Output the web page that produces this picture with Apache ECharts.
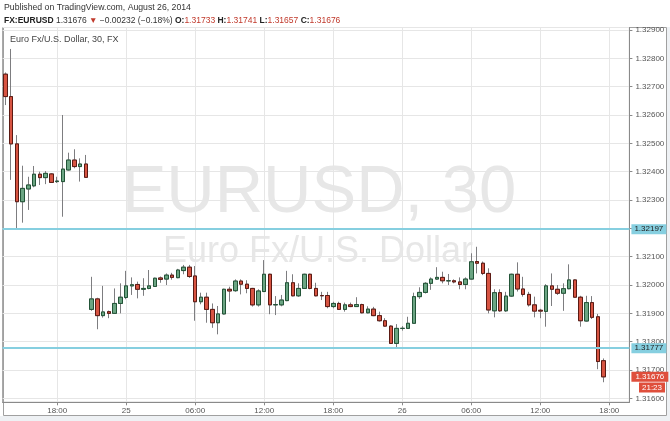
<!DOCTYPE html>
<html><head><meta charset="utf-8">
<script src="https://cdn.jsdelivr.net/npm/echarts@6/dist/echarts.min.js"></script>
<style>html,body{margin:0;padding:0;background:#fff}#c{width:670px;height:421px}</style>
</head><body><div id="c"></div>
<script>
// 30-minute bar times (Fri 22 Aug 13:30-20:30, then Sun 24 Aug 21:00 onward)
const barTimes = (function () {
  const out = [];
  const p = n => String(n).padStart(2, '0');
  for (let t = 13 * 60 + 30; t <= 20 * 60 + 30; t += 30) out.push('2014-08-22 ' + p(Math.floor(t / 60)) + ':' + p(t % 60));
  for (let t = 21 * 60; t <= (48 + 19) * 60 + 30; t += 30) {
    const d = 24 + Math.floor(t / 1440), r = t % 1440;
    out.push('2014-08-' + d + ' ' + p(Math.floor(r / 60)) + ':' + p(r % 60));
  }
  return out;
})();

const opens = [
1.32744,1.32665,1.32498,1.32294,1.32339,1.32350,1.32391,1.32379,1.32392,1.32365,1.32365,1.32406,1.32441,1.32418,1.32427,
1.31914,1.31951,1.31892,1.31906,1.31900,1.31935,1.31956,1.31997,1.32002,1.31985,1.31988,1.31995,1.32025,1.32021,1.32035,
1.32026,1.32051,1.32063,1.32032,1.31941,1.31957,1.31914,1.31867,1.31898,1.31985,1.31980,1.32014,1.32003,1.31988,1.31930,
1.31977,1.32038,1.31930,1.31930,1.31945,1.32008,1.31962,1.31988,1.32038,1.31988,1.31963,1.31963,1.31924,1.31935,1.31914,
1.31930,1.31924,1.31931,1.31902,1.31915,1.31892,1.31874,1.31855,1.31794,1.31847,1.31847,1.31865,1.31959,1.31974,1.32006,
1.32021,1.32027,1.32015,1.32015,1.32011,1.32002,1.32021,1.32083,1.32077,1.32041,1.31909,1.31973,1.31909,1.31961,1.32038,
1.31986,1.31967,1.31930,1.31911,1.31907,1.31997,1.31985,1.31971,1.31987,1.32018,1.31957,1.31873,1.31938,1.31888,1.31733];
const closes = [
1.32665,1.32498,1.32294,1.32341,1.32353,1.32391,1.32379,1.32394,1.32362,1.32367,1.32409,1.32441,1.32418,1.32427,1.32380,
1.31951,1.31892,1.31905,1.31900,1.31935,1.31957,1.31997,1.32001,1.31985,1.31988,1.31997,1.32024,1.32020,1.32035,1.32027,
1.32053,1.32063,1.32030,1.31941,1.31957,1.31914,1.31867,1.31898,1.31985,1.31979,1.32014,1.32003,1.31988,1.31930,1.31979,
1.32038,1.31930,1.31931,1.31947,1.32008,1.31962,1.31988,1.32038,1.31988,1.31962,1.31962,1.31924,1.31935,1.31914,1.31930,
1.31924,1.31931,1.31902,1.31915,1.31892,1.31874,1.31855,1.31794,1.31847,1.31847,1.31865,1.31959,1.31974,1.32006,1.32021,
1.32027,1.32015,1.32015,1.32011,1.32002,1.32021,1.32082,1.32077,1.32041,1.31912,1.31973,1.31909,1.31961,1.32038,1.31986,
1.31967,1.31930,1.31908,1.31908,1.31997,1.31985,1.31971,1.31987,1.32018,1.31957,1.31874,1.31938,1.31886,1.31730,1.31676];
const lows = [
1.32635,1.32371,1.32197,1.32220,1.32265,1.32345,1.32353,1.32356,1.32360,1.32360,1.32241,1.32404,1.32412,1.32365,1.32378,
1.31909,1.31844,1.31885,1.31883,1.31898,1.31900,1.31950,1.31965,1.31953,1.31962,1.31985,1.31993,1.32008,1.32000,1.32019,
1.32024,1.32038,1.32025,1.31874,1.31932,1.31867,1.31849,1.31826,1.31896,1.31941,1.31976,1.31967,1.31971,1.31924,1.31924,
1.31975,1.31897,1.31894,1.31925,1.31943,1.31960,1.31958,1.31986,1.31985,1.31960,1.31947,1.31918,1.31918,1.31912,1.31906,
1.31922,1.31924,1.31900,1.31900,1.31890,1.31871,1.31853,1.31792,1.31780,1.31839,1.31845,1.31864,1.31951,1.31970,1.31983,
1.32018,1.32006,1.32000,1.32006,1.31985,1.31985,1.32019,1.32041,1.32035,1.31900,1.31886,1.31905,1.31905,1.31958,1.31977,
1.31959,1.31924,1.31886,1.31883,1.31853,1.31926,1.31965,1.31909,1.31985,1.31955,1.31853,1.31871,1.31880,1.31703,1.31657];
const highs = [
1.32750,1.32833,1.32529,1.32421,1.32382,1.32420,1.32400,1.32402,1.32395,1.32382,1.32600,1.32467,1.32479,1.32447,1.32459,
1.32029,1.31955,1.31997,1.31910,1.31988,1.32006,1.32050,1.32027,1.32012,1.32024,1.32053,1.32026,1.32030,1.32041,1.32043,
1.32057,1.32071,1.32071,1.32067,1.31973,1.31973,1.31935,1.31926,1.31987,1.31994,1.32020,1.32020,1.32017,1.31990,1.31985,
1.32088,1.32040,1.31961,1.31965,1.32050,1.32038,1.32006,1.32040,1.32040,1.32008,1.31976,1.31976,1.31941,1.31941,1.31938,
1.31938,1.31957,1.31934,1.31925,1.31923,1.31906,1.31883,1.31858,1.31862,1.31855,1.31888,1.31973,1.31992,1.32010,1.32027,
1.32063,1.32047,1.32039,1.32020,1.32027,1.32027,1.32112,1.32135,1.32083,1.32059,1.31985,1.31985,1.31976,1.32040,1.32080,
1.32029,1.31976,1.31959,1.31916,1.32003,1.32041,1.32000,1.32006,1.32073,1.32020,1.31962,1.31962,1.31961,1.31898,1.31741];

const levels = [1.32197, 1.31777];
const lastPrice = closes[closes.length - 1];
const timerText = '21:23';
const yMin = 1.315862, yMax = 1.329087;

const FONT = '"Liberation Sans", Arial, sans-serif';
const upFill = '#6ba583', downFill = '#d75442', upEdge = '#225437', downEdge = '#5b1a13', wickColor = '#7d7d80';
const levelColor = '#86cfe0', priceColor = '#df4f3c';

const ohlc = opens.map((o, i) => [o, closes[i], lows[i], highs[i]]);
const bodies = opens.map((o, i) => [o, closes[i], Math.min(o, closes[i]), Math.max(o, closes[i])]);

const isMajor = (idx, val) => { const hm = String(val).slice(11); return hm === '00:00' || hm === '06:00' || hm === '12:00' || hm === '18:00'; };
const fmtX = v => { const hm = v.slice(11); return hm === '00:00' ? String(+v.slice(8, 10)) : hm; };

const levelLabel = (bg, fg, pad) => ({ show: true, position: 'end', distance: 2, formatter: p => Number(p.value).toFixed(5),
  fontSize: 8, color: fg, backgroundColor: bg, padding: pad, fontFamily: FONT });

const chart = echarts.init(document.getElementById('c'), null, { renderer: 'canvas' });
chart.setOption({
  animation: false,
  backgroundColor: '#ffffff',
  textStyle: { fontFamily: FONT },
  grid: { left: 2.6, right: 40.6, top: 27.5, bottom: 18.7, show: true, borderColor: '#a0a0a0', borderWidth: 1 },
  xAxis: {
    type: 'category', data: barTimes, boundaryGap: true,
    axisLine: { lineStyle: { color: '#8a8a8a' } },
    axisTick: { show: true, alignWithLabel: true, interval: isMajor, length: 3, lineStyle: { color: '#8a8a8a' } },
    axisLabel: { interval: isMajor, formatter: fmtX, fontSize: 8, color: '#555', margin: 4, fontFamily: FONT },
    splitLine: { show: true, interval: isMajor, alignWithLabel: true, lineStyle: { color: '#e6e6e6' } }
  },
  yAxis: {
    type: 'value', position: 'right', min: yMin, max: yMax, scale: true,
    splitNumber: 13, minInterval: 0.001, maxInterval: 0.001,
    axisLine: { show: true, lineStyle: { color: '#8a8a8a' } },
    axisTick: { show: true, length: 3, lineStyle: { color: '#8a8a8a' } },
    axisLabel: { formatter: v => v.toFixed(5), fontSize: 8, color: '#555', margin: 6, showMinLabel: false, showMaxLabel: false, fontFamily: FONT },
    splitLine: { show: true, lineStyle: { color: '#e6e6e6' } }
  },
  graphic: [
    { type: 'rect', z: -20, shape: { x: 0, y: 416, width: 670, height: 5 }, style: { fill: '#eef1f4' } },
    { type: 'rect', z: -20, shape: { x: 667, y: 27, width: 3, height: 394 }, style: { fill: '#eef1f4' } },
    { type: 'rect', z: -10, shape: { x: 3.5, y: 27.5, width: 663, height: 388 }, style: { fill: 'none', stroke: '#a0a0a0', lineWidth: 1 } },
    { type: 'text', z: -5, style: { x: 319, y: 194, text: 'EURUSD, 30', align: 'center', verticalAlign: 'middle', font: '67px ' + FONT, fill: '#e7e7e7' } },
    { type: 'text', z: -5, style: { x: 318, y: 252, text: 'Euro Fx/U.S. Dollar', align: 'center', verticalAlign: 'middle', font: '36px ' + FONT, fill: '#e7e7e7' } },
    { type: 'text', z: 10, style: { x: 4, y: 7.5, text: 'Published on TradingView.com, August 26, 2014', verticalAlign: 'middle', font: '8.7px ' + FONT, fill: '#333' } },
    { type: 'text', z: 10, style: { x: 4, y: 20.5, verticalAlign: 'middle', font: '8.5px ' + FONT, fill: '#333',
      text: '{b|FX:EURUSD} {n|1.31676} {r|▼} {n|−0.00232 (−0.18%)} {b|O:}{r|1.31733} {b|H:}{r|1.31741} {b|L:}{r|1.31657} {b|C:}{r|1.31676}',
      rich: { b: { fontWeight: 'bold', fontSize: 8.5, fill: '#222', fontFamily: FONT }, n: { fontSize: 8.5, fill: '#333', fontFamily: FONT }, r: { fontSize: 8.5, fill: '#c0392b', fontFamily: FONT } } } },
    { type: 'text', z: 10, style: { x: 10, y: 40, text: 'Euro Fx/U.S. Dollar, 30, FX', verticalAlign: 'middle', font: '9px ' + FONT, fill: '#444' } },
    { type: 'text', z: 20, style: { x: 652, y: 387.5, text: timerText, align: 'center', verticalAlign: 'middle', font: '8px ' + FONT, fill: '#fff', backgroundColor: priceColor, padding: [1, 3, 1, 3] } }
  ],
  series: [
    {
      type: 'candlestick', name: 'range', data: ohlc, barWidth: 4,
      itemStyle: { color: upFill, color0: downFill, borderColor: wickColor, borderColor0: wickColor, borderWidth: 1 }
    },
    {
      type: 'candlestick', name: 'body', data: bodies, barWidth: 4,
      itemStyle: { color: upFill, color0: downFill, borderColor: upEdge, borderColor0: downEdge, borderWidth: 1 }
    },
    {
      type: 'line', name: 'levels', data: [], silent: true, z: 5,
      markLine: {
        silent: true, symbol: ['none', 'none'], animation: false, precision: 5,
        data: [
          { yAxis: levels[0], lineStyle: { color: levelColor, width: 2, type: 'solid' }, label: levelLabel(levelColor, '#222', [1, 3, 1, 3]) },
          { yAxis: levels[1], lineStyle: { color: levelColor, width: 2, type: 'solid' }, label: levelLabel(levelColor, '#222', [1, 3, 1, 3]) },
          { yAxis: lastPrice, lineStyle: { color: 'rgba(0,0,0,0)', width: 1, type: 'solid' }, label: levelLabel(priceColor, '#fff', [1, 4, 1, 4]) }
        ]
      }
    }
  ]
});
</script></body></html>
